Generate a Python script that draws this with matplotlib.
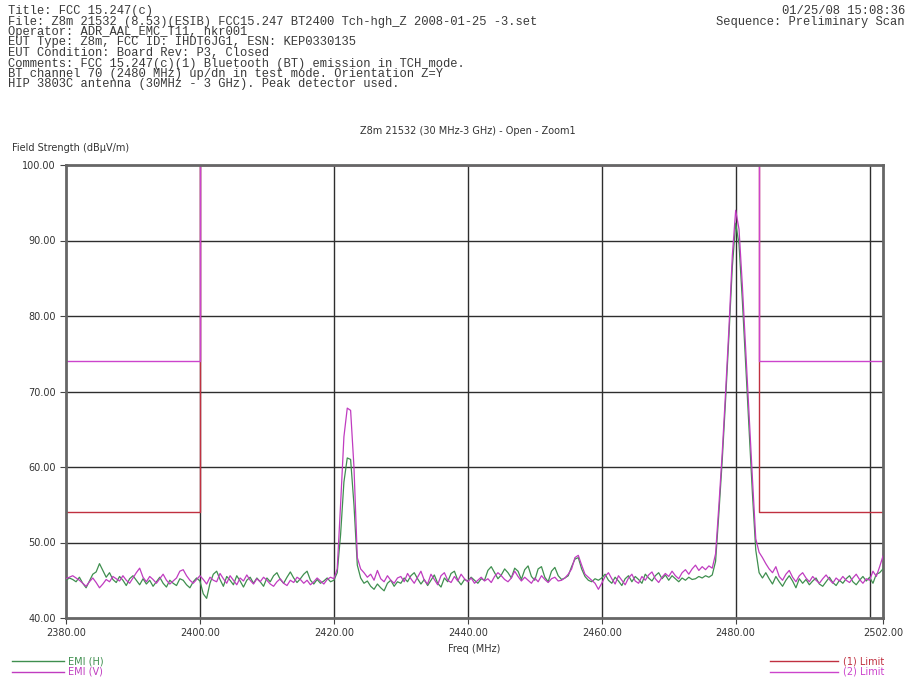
import numpy as np
import matplotlib
matplotlib.use('Agg')
import matplotlib.pyplot as plt

# sweep: 2380 .. 2502 MHz, 0.5 MHz steps
freq = np.arange(2380.0, 2502.01, 0.5)

emi_v = [
    45.2, 45.4, 45.6, 45.3, 45.0, 44.6, 44.2, 44.8, 45.3, 44.7, 44.0, 44.5, 45.1, 44.8, 45.5, 45.2, 44.9, 45.6, 45.0, 44.6,
    45.3, 46.0, 46.6, 45.4, 44.8, 45.5, 45.1, 44.6, 45.2, 45.8, 45.0, 44.5, 44.9, 45.3, 46.2, 46.4, 45.6, 45.0, 44.6, 45.1,
    45.6, 45.1, 44.5, 45.4, 45.0, 44.8, 45.9, 45.2, 44.6, 45.6, 45.0, 44.4, 45.3, 44.9, 45.7, 45.0, 44.5, 45.2, 44.8, 45.4,
    45.0, 44.5, 44.2, 44.8, 45.2, 44.6, 44.3, 45.0, 44.7, 45.4, 45.1, 44.6, 45.0, 44.4, 44.8, 45.3, 44.9, 44.5, 45.1, 45.4,
    45.2, 46.5, 55.0, 64.0, 67.8, 67.5, 60.0, 48.0, 46.5, 46.0, 45.4, 45.8, 45.0, 46.3, 45.2, 44.8, 45.6, 45.0, 44.6, 45.3,
    45.5, 44.8, 45.9, 45.2, 44.6, 45.4, 46.2, 45.0, 44.5, 45.8, 45.1, 44.4, 45.6, 46.0, 45.0, 44.7, 45.5, 44.9, 45.8, 45.2,
    44.8, 45.3, 44.6, 45.0, 45.4, 44.9, 45.2, 44.7, 45.5, 46.0, 45.6, 45.1, 44.8, 45.3, 46.2, 45.5, 44.9, 45.4, 45.0, 44.6,
    45.3, 44.8, 45.6, 45.1, 44.7, 45.2, 45.4, 44.9, 45.0, 45.3, 45.8, 46.5, 48.0, 48.3, 47.0, 45.8, 45.4, 45.0, 44.6, 43.8,
    44.6, 45.5, 46.0, 45.2, 44.5, 45.6, 45.0, 44.4, 45.3, 45.8, 44.9, 44.6, 45.5, 45.0, 45.7, 46.1, 45.2, 44.7, 45.4, 45.9,
    45.5, 46.2, 45.6, 45.2, 46.0, 46.4, 45.8, 46.5, 47.0, 46.3, 46.8, 46.4, 46.9, 46.6, 48.5, 55.0, 62.0, 70.0, 78.5, 88.0,
    94.0, 91.5, 84.0, 75.5, 67.0, 58.5, 50.5, 48.7, 48.0, 47.2, 46.5, 46.0, 46.8, 45.5, 45.0, 45.8, 46.3, 45.4, 44.8, 45.6,
    46.0, 45.3, 44.8, 45.5, 45.0, 44.6, 45.2, 45.7, 45.1, 44.6, 45.3, 44.9, 45.5, 45.0, 44.7, 45.3, 45.8, 45.1, 44.6, 45.2,
    45.0, 46.2, 45.5, 46.8, 48.2,
]

emi_h = [
    45.0, 45.3, 45.1, 44.8, 45.4, 44.6, 44.0, 44.9, 45.8, 46.1, 47.2, 46.3, 45.4, 46.0, 45.1, 44.7, 45.5, 45.0, 44.3, 45.2,
    45.6, 45.0, 44.4, 45.2, 44.5, 45.0, 44.2, 44.8, 45.4, 44.6, 44.1, 45.0, 44.6, 44.3, 45.2, 45.0, 44.4, 44.0, 44.8, 45.3,
    44.9, 43.2, 42.6, 44.6, 45.8, 46.2, 45.1, 44.2, 45.5, 45.0, 44.4, 45.6, 44.9, 44.1, 45.0, 45.4, 44.6, 45.3, 44.8, 44.2,
    45.3, 44.8, 45.6, 46.0, 45.1, 44.6, 45.4, 46.1, 45.3, 44.7, 45.2, 45.8, 46.2, 45.0, 44.5, 45.1, 44.6, 44.9, 45.3, 44.8,
    45.0, 46.0, 51.0, 58.0, 61.2, 61.0, 55.0, 47.0, 45.3, 44.6, 44.9, 44.2, 43.8, 44.5, 44.0, 43.6, 44.6, 45.0, 44.2, 44.8,
    44.6, 45.3, 44.8, 45.6, 46.0, 45.2, 44.5, 45.1, 44.3, 45.0, 45.7, 44.6, 44.1, 45.3, 44.8, 45.9, 46.2, 45.0, 44.4, 45.1,
    44.9, 45.4, 45.0, 44.6, 45.2, 45.0, 46.3, 46.8, 46.0, 45.2, 45.7, 46.5, 46.0, 45.3, 46.6, 46.2, 45.1, 46.4, 46.9, 45.5,
    45.0, 46.5, 46.8, 45.4, 44.8, 46.2, 46.7, 45.6, 45.1, 45.3, 45.6, 46.8, 47.8, 48.0, 46.5, 45.5, 45.0, 44.8, 45.2, 45.0,
    45.3, 45.8, 45.0, 44.6, 45.4, 44.9, 44.3, 45.2, 45.6, 44.8, 45.5, 45.1, 44.6, 45.8, 45.3, 44.9, 45.6, 46.0, 45.2, 45.7,
    45.0, 45.6, 45.2, 44.8, 45.3, 45.0, 45.4, 45.1, 45.2, 45.5, 45.3, 45.6, 45.4, 45.7, 47.5, 54.0, 61.0, 69.0, 77.5, 86.5,
    92.3, 89.5, 82.0, 73.5, 65.0, 56.5, 49.0, 46.0, 45.3, 46.0, 45.2, 44.5, 45.5, 44.8, 44.2, 45.0, 45.6, 44.9, 44.0, 45.2,
    44.6, 45.1, 44.4, 44.9, 45.3, 44.5, 44.2, 44.8, 45.4, 44.7, 44.3, 45.0, 44.6, 45.2, 45.6, 44.8, 44.4, 45.0, 45.5, 44.9,
    45.4, 44.6, 45.8, 46.0, 46.5,
]

# limit lines (restricted band edges)
limit_f = [2380, 2400, 2400, 2483.5, 2483.5, 2502]
limit1 = [54, 54, 100, 100, 54, 54]
limit2 = [74, 74, 100, 100, 74, 74]

xticks = [2380, 2400, 2420, 2440, 2460, 2480, 2502]
xgrid = [2400, 2420, 2440, 2460, 2480, 2500]
yticks = [40, 50, 60, 70, 80, 90, 100]

c_h = '#3f8f4f'
c_v = '#c03cc0'
c_l1 = '#c03040'
c_l2 = '#cc44cc'

fig = plt.figure(figsize=(9.1, 6.86), dpi=100)
ax = fig.add_axes([66 / 910, 1 - 618 / 686, (883 - 66) / 910, (618 - 165) / 686])

for g in xgrid:
    ax.axvline(g, color='#2e2e2e', lw=1.0, zorder=1)
for g in yticks[1:-1]:
    ax.axhline(g, color='#2e2e2e', lw=1.0, zorder=1)

ax.plot(limit_f, limit1, color=c_l1, lw=1.0, zorder=2)
ax.plot(limit_f, limit2, color=c_l2, lw=1.0, zorder=2)
ax.plot(freq, emi_h, color=c_h, lw=0.9, zorder=3)
ax.plot(freq, emi_v, color=c_v, lw=0.9, zorder=3)

ax.set_xlim(2380, 2502)
ax.set_ylim(40, 100)
ax.set_xticks(xticks)
ax.set_xticklabels(['%.2f' % t for t in xticks])
ax.set_yticks(yticks)
ax.set_yticklabels(['%.2f' % t for t in yticks])
ax.tick_params(labelsize=7, length=4, color='#444', labelcolor='#333')
for s in ax.spines.values():
    s.set_color('#666666')
    s.set_linewidth(2.0)
ax.set_xlabel('Freq (MHz)', fontsize=7, color='#333', labelpad=4)

# header text
mono = 'Liberation Mono'
header = [
    'Title: FCC 15.247(c)',
    'File: Z8m 21532 (8.53)(ESIB) FCC15.247 BT2400 Tch-hgh_Z 2008-01-25 -3.set',
    'Operator: ADR_AAL_EMC_T11, hkr001',
    'EUT Type: Z8m, FCC ID: IHDT6JG1, ESN: KEP0330135',
    'EUT Condition: Board Rev: P3, Closed',
    'Comments: FCC 15.247(c)(1) Bluetooth (BT) emission in TCH mode.',
    'BT channel 70 (2480 MHz) up/dn in test mode. Orientation Z=Y',
    'HIP 3803C antenna (30MHz - 3 GHz). Peak detector used.',
]
for i, line in enumerate(header):
    fig.text(8 / 910, 1 - (11 + i * 10.5) / 686, line, family=mono, fontsize=8.7,
             color='#3a3a3a', va='center', ha='left')
fig.text(905 / 910, 1 - 11 / 686, '01/25/08 15:08:36', family=mono, fontsize=8.7,
         color='#3a3a3a', va='center', ha='right')
fig.text(905 / 910, 1 - 21.5 / 686, 'Sequence: Preliminary Scan', family=mono, fontsize=8.7,
         color='#3a3a3a', va='center', ha='right')

fig.text(468 / 910, 1 - 131 / 686, 'Z8m 21532 (30 MHz-3 GHz) - Open - Zoom1',
         fontsize=7, color='#333', ha='center', va='center')
fig.text(12 / 910, 1 - 148 / 686, 'Field Strength (dB\u00b5V/m)',
         fontsize=7, color='#333', ha='left', va='center')

# legend entries
def leg(x0, x1, y, txt, col, tx, ha):
    fig.add_artist(plt.Line2D([x0 / 910, x1 / 910], [1 - y / 686, 1 - y / 686], color=col, lw=1.0))
    fig.text(tx / 910, 1 - y / 686, txt, fontsize=7, color=col, ha=ha, va='center')

leg(12, 64, 661, 'EMI (H)', c_h, 68, 'left')
leg(12, 64, 672, 'EMI (V)', c_v, 68, 'left')
leg(770, 838, 661, '(1) Limit', c_l1, 884, 'right')
leg(770, 838, 672, '(2) Limit', c_l2, 884, 'right')

fig.savefig('out.png', dpi=100, facecolor='white')
